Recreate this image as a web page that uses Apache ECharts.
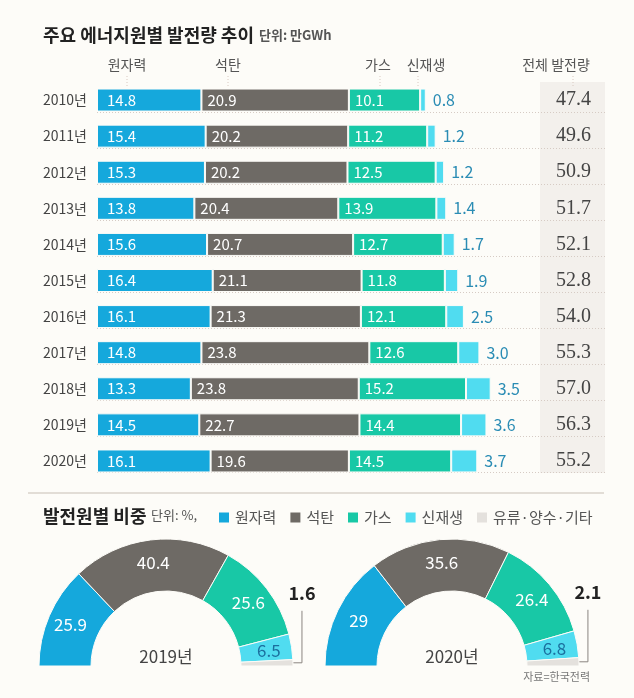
<!DOCTYPE html>
<html>
<head>
<meta charset="utf-8">
<script src="https://cdn.jsdelivr.net/npm/echarts@6/dist/echarts.min.js"></script>
<style>
  html, body { margin: 0; padding: 0; background: #fdfcf8; }
  #main { width: 634px; height: 698px; }
</style>
</head>
<body>
<div id="main"></div>
<script>
// 연도별 발전량 (단위: 만GWh)
var years = ['2010년', '2011년', '2012년', '2013년', '2014년', '2015년', '2016년', '2017년', '2018년', '2019년', '2020년'];
var nuclear = [14.8, 15.4, 15.3, 13.8, 15.6, 16.4, 16.1, 14.8, 13.3, 14.5, 16.1];
var coal = [20.9, 20.2, 20.2, 20.4, 20.7, 21.1, 21.3, 23.8, 23.8, 22.7, 19.6];
var gas = [10.1, 11.2, 12.5, 13.9, 12.7, 11.8, 12.1, 12.6, 15.2, 14.4, 14.5];
var renew = [0.8, 1.2, 1.2, 1.4, 1.7, 1.9, 2.5, 3.0, 3.5, 3.6, 3.7];
var totals = ['47.4', '49.6', '50.9', '51.7', '52.1', '52.8', '54.0', '55.3', '57.0', '56.3', '55.2'];

// 발전원별 비중 (단위: %)
var sourceNames = ['원자력', '석탄', '가스', '신재생', '유류·양수·기타'];
var share2019 = [25.9, 40.4, 25.6, 6.5, 1.6];
var share2020 = [29, 35.6, 26.4, 6.8, 2.1];

var colors = ['#15a8dc', '#6e6a65', '#18c8a6', '#50dcf0', '#e4e1dd'];
var FONT = '"Noto Sans CJK KR", "Noto Sans", sans-serif';
var BAR_H = 23;

function fmt1(p) {
    return Number(p.value).toFixed(1);
}

function bar_series(name, data, idx) {
    var isLast = idx === 3;
    return {
        name: name,
        type: 'bar',
        stack: 'total',
        barWidth: BAR_H,
        data: data,
        itemStyle: {
            color: colors[idx],
            borderColor: '#fdfcf8',
            borderWidth: 1
        },
        label: {
            show: true,
            position: isLast ? 'right' : 'insideLeft',
            distance: isLast ? 7 : (idx === 0 ? 10 : 6),
            formatter: fmt1,
            color: isLast ? '#2a8cb4' : '#fff',
            fontSize: isLast ? 16 : 15,
            fontFamily: FONT
        }
    };
}

function pie_data(values) {
    return values.map(function (v, i) {
        var item = {
            name: sourceNames[i],
            value: v,
            itemStyle: { color: colors[i] }
        };
        if (i === 3) {
            item.label = { color: '#1b6f9e' };
        }
        if (i === 4) {
            item.label = {
                position: 'outside',
                color: '#222',
                fontSize: 18,
                fontWeight: 'bold'
            };
            item.labelLine = {
                show: true,
                lineStyle: { color: '#8a8580', width: 1 }
            };
        }
        return item;
    });
}

function pie_series(values, cx) {
    return {
        type: 'pie',
        radius: [75, 127],
        center: [cx, 666],
        startAngle: 180,
        endAngle: 0,
        clockwise: true,
        avoidLabelOverlap: false,
        itemStyle: { borderColor: '#fdfcf8', borderWidth: 1 },
        label: {
            show: true,
            position: 'inside',
            formatter: '{c}',
            color: '#fff',
            fontSize: 17,
            fontFamily: FONT
        },
        labelLine: { show: false },
        labelLayout: function (params) {
            if (params.dataIndex !== 4 || !params.labelLinePoints) {
                return {};
            }
            var s = params.labelLinePoints[0];
            var x = s[0] + 9;
            return {
                x: x,
                y: s[1] - 70,
                align: 'center',
                verticalAlign: 'middle',
                labelLinePoints: [[s[0], s[1]], [x, s[1]], [x, s[1] - 52]]
            };
        },
        data: pie_data(values)
    };
}

var chart = echarts.init(document.getElementById('main'));

var headers = [
    { text: '원자력', x: 127, tick: 127 },
    { text: '석탄', x: 228, tick: 228 },
    { text: '가스', x: 378, tick: 380 },
    { text: '신재생', x: 426, tick: 418 },
    { text: '전체 발전량', x: 556, tick: 573 }
];

var graphics = [
    // 전체 발전량 배경
    { type: 'rect', z: 0, shape: { x: 540, y: 82, width: 65, height: 391 }, style: { fill: '#f3f0ec' } },
    // 구분선
    { type: 'line', z: 0, shape: { x1: 28, y1: 493, x2: 604, y2: 493 }, style: { stroke: '#d9d3cb', lineWidth: 1.5 } },
    { type: 'text', style: { text: '단위: %,', x: 151, y: 515, verticalAlign: 'middle', font: '13px ' + FONT, fill: '#555' } },
    { type: 'text', z: 10, style: { text: '2019년', x: 166, y: 657, align: 'center', verticalAlign: 'middle', font: '17px ' + FONT, fill: '#444' } },
    { type: 'text', z: 10, style: { text: '2020년', x: 452, y: 657, align: 'center', verticalAlign: 'middle', font: '17px ' + FONT, fill: '#444' } },
    { type: 'text', style: { text: '자료=한국전력', x: 590, y: 677, align: 'right', verticalAlign: 'middle', font: '11px ' + FONT, fill: '#777' } }
];

headers.forEach(function (h) {
    graphics.push({
        type: 'text',
        style: { text: h.text, x: h.x, y: 65, align: 'center', verticalAlign: 'middle', font: '14px ' + FONT, fill: '#555' }
    });
    graphics.push({
        type: 'line',
        shape: { x1: h.tick, y1: 76, x2: h.tick, y2: 88 },
        style: { stroke: '#d8c8c0', lineWidth: 1, lineDash: [1, 2] }
    });
});

var option = {
    backgroundColor: '#fdfcf8',
    animation: false,
    title: [
        {
            left: 38,
            top: 21,
            text: '{a|주요 에너지원별 발전량 추이} {b|단위: 만GWh}',
            textStyle: {
                rich: {
                    a: { fontSize: 18, fontWeight: 'bold', color: '#222', fontFamily: FONT },
                    b: { fontSize: 13, color: '#555', fontFamily: FONT }
                }
            }
        },
        {
            left: 38,
            top: 502,
            text: '{a|발전원별 비중}',
            textStyle: {
                rich: {
                    a: { fontSize: 18, fontWeight: 'bold', color: '#222', fontFamily: FONT }
                }
            }
        }
    ],
    legend: {
        data: sourceNames,
        left: 212,
        top: 505,
        icon: 'rect',
        itemWidth: 12,
        itemHeight: 12,
        itemGap: 12,
        selectedMode: false,
        textStyle: { fontSize: 15, color: '#555', fontFamily: FONT }
    },
    grid: {
        left: 97,
        right: 29,
        top: 82,
        bottom: 219
    },
    xAxis: {
        type: 'value',
        min: 0,
        max: 72,
        show: false
    },
    yAxis: [
        {
            type: 'category',
            inverse: true,
            data: years,
            axisLine: { show: false },
            axisTick: { show: false },
            axisLabel: { margin: 10, color: '#444', fontSize: 14, fontFamily: FONT }
        },
        {
            type: 'category',
            inverse: true,
            position: 'right',
            data: totals,
            axisLine: { show: false },
            axisTick: { show: false },
            axisLabel: {
                inside: true,
                margin: 14,
                color: '#444',
                fontSize: 20,
                fontFamily: '"Liberation Serif", "DejaVu Serif", serif'
            }
        }
    ],
    graphic: graphics,
    series: [
        bar_series('원자력', nuclear, 0),
        bar_series('석탄', coal, 1),
        bar_series('가스', gas, 2),
        bar_series('신재생', renew, 3),
        pie_series(share2019, 166),
        pie_series(share2020, 452)
    ]
};

chart.setOption(option);

// 행 구분 점선 (막대 아래쪽)
var rowLines = years.map(function (y) {
    var cy = chart.convertToPixel({ yAxisIndex: 0 }, y);
    var ly = Math.round(cy + BAR_H / 2) + 0.5;
    return {
        type: 'line',
        z: 1,
        shape: { x1: 97, y1: ly, x2: 605, y2: ly },
        style: { stroke: '#d6cbc4', lineWidth: 1, lineDash: [1, 2] }
    };
});
chart.setOption({ graphic: graphics.concat(rowLines) });
</script>
</body>
</html>
